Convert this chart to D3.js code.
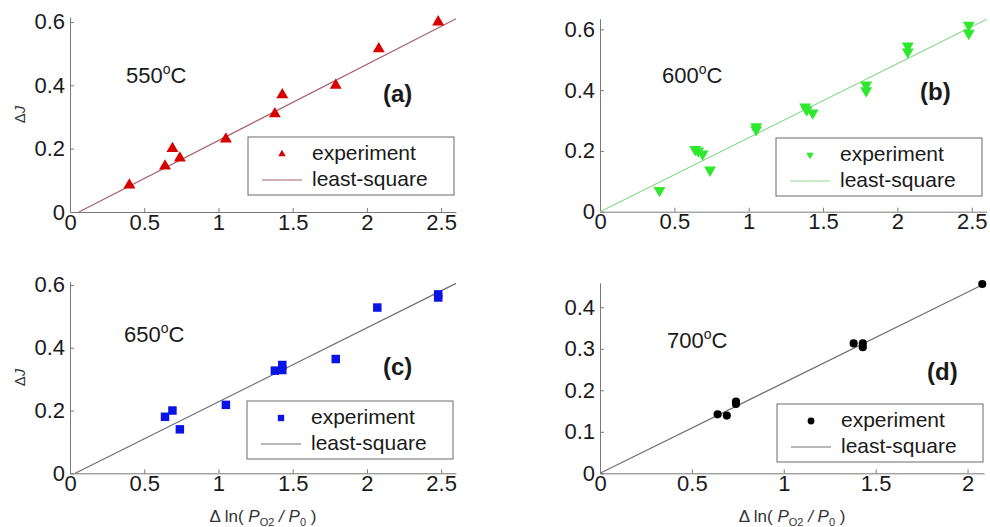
<!DOCTYPE html>
<html>
<head>
<meta charset="utf-8">
<script src="https://cdn.jsdelivr.net/npm/d3@7"></script>
<style>
    body { margin: 0; background: #fff; }
    svg { font-family: "Liberation Sans", Arial, sans-serif; }
    .axis path, .axis line { stroke: #7a7a7a; }
    .axis text { font-size: 22px; fill: #1a1a1a; }
</style>
</head>
<body>
<div id="chart"></div>
<script>
// ---- data ----
// (a) 550 C
const xA = [0.40, 0.64, 0.69, 0.74, 1.05, 1.38, 1.43, 1.79, 2.08, 2.48];
const yA = [0.085, 0.145, 0.20, 0.17, 0.23, 0.31, 0.37, 0.40, 0.515, 0.60];
const fitXA = [0.06, 2.6];
const fitYA = [0, 0.61];

// (b) 600 C
const xB = [0.40, 0.64, 0.66, 0.69, 0.74, 1.05, 1.05, 1.38, 1.39, 1.43, 1.79, 1.79, 2.07, 2.07, 2.48, 2.48];
const yB = [0.07, 0.205, 0.20, 0.19, 0.137, 0.28, 0.27, 0.345, 0.335, 0.325, 0.417, 0.398, 0.545, 0.526, 0.614, 0.587];
const fitXB = [0, 2.6];
const fitYB = [0, 0.633];

// (c) 650 C
const xC = [0.64, 0.69, 0.74, 1.05, 1.38, 1.43, 1.43, 1.79, 2.07, 2.48, 2.48];
const yC = [0.18, 0.20, 0.14, 0.218, 0.327, 0.345, 0.329, 0.364, 0.528, 0.56, 0.57];
const fitXC = [0.035, 2.6];
const fitYC = [0, 0.605];

// (d) 700 C
const xD = [0.64, 0.69, 0.74, 0.74, 1.38, 1.43, 1.43, 2.08];
const yD = [0.142, 0.139, 0.173, 0.167, 0.313, 0.313, 0.304, 0.456];
const fitXD = [0, 2.09];
const fitYD = [0, 0.456];

const xTicks = [0, 0.5, 1, 1.5, 2, 2.5];
const xTicksD = [0, 0.5, 1, 1.5, 2];
const yTicks = [0, 0.2, 0.4, 0.6];
const yTicksD = [0, 0.1, 0.2, 0.3, 0.4];

const temperatures = ["550", "600", "650", "700"];
const panelTags = ["(a)", "(b)", "(c)", "(d)"];
const legendLabels = ["experiment", "least-square"];

const zip = (xs, ys) => xs.map((x, i) => ({x: x, y: ys[i]}));

class FitPanel {

    constructor(svg, cfg) {
        this.svg = svg;
        this.cfg = cfg;
        this.initVis();
    }

    initVis() {
        let vis = this;
        let c = vis.cfg;

        vis.g = vis.svg.append("g");

        vis.xScale = d3.scaleLinear().domain(c.xDomain).range(c.xRange);
        vis.yScale = d3.scaleLinear().domain(c.yDomain).range(c.yRange);

        vis.drawAxes();
        vis.drawFit();
        vis.drawPoints();
        vis.drawLabels();
        vis.drawLegend();
    }

    drawAxes() {
        let vis = this;
        let c = vis.cfg;

        let xAxis = d3.axisBottom(vis.xScale)
            .tickValues(c.xTicks)
            .tickFormat(d => String(d))
            .tickSizeInner(-4)
            .tickSizeOuter(0)
            .tickPadding(2);

        let yAxis = d3.axisLeft(vis.yScale)
            .tickValues(c.yTicks)
            .tickFormat(d => String(d))
            .tickSizeInner(-4)
            .tickSizeOuter(0)
            .tickPadding(5);

        vis.g.append("g")
            .attr("class", "axis x-axis")
            .attr("transform", `translate(0,${c.yRange[0]})`)
            .call(xAxis);

        vis.g.append("g")
            .attr("class", "axis y-axis")
            .attr("transform", `translate(${c.xRange[0]},0)`)
            .call(yAxis);
    }

    drawFit() {
        let vis = this;
        let c = vis.cfg;

        const line = d3.line()
            .x(d => vis.xScale(d.x))
            .y(d => vis.yScale(d.y));

        vis.g.append("path")
            .datum(zip(c.fitX, c.fitY))
            .attr("fill", "none")
            .attr("stroke", c.lineColor)
            .attr("stroke-width", 1.2)
            .attr("d", line);
    }

    drawPoints() {
        let vis = this;
        let c = vis.cfg;

        const symbol = d3.symbol().type(c.symbol).size(c.symbolSize);

        vis.g.selectAll(".pt")
            .data(zip(c.xs, c.ys))
            .enter()
            .append("path")
            .attr("class", "pt")
            .attr("d", symbol)
            .attr("fill", c.markerColor)
            .attr("transform", d => `translate(${vis.xScale(d.x)},${vis.yScale(d.y)}) rotate(${c.rotate})`);
    }

    drawLabels() {
        let vis = this;
        let c = vis.cfg;

        // temperature, with a raised "o" for degrees
        let t = vis.g.append("text")
            .attr("x", c.tempPos[0])
            .attr("y", c.tempPos[1])
            .attr("font-size", 22)
            .attr("fill", "#1a1a1a");
        t.append("tspan").text(c.temp);
        t.append("tspan").attr("font-size", 14).attr("dy", -9).text("o");
        t.append("tspan").attr("dy", 9).text("C");

        vis.g.append("text")
            .attr("x", c.tagPos[0])
            .attr("y", c.tagPos[1])
            .attr("font-size", 24)
            .attr("font-weight", "bold")
            .attr("fill", "#1a1a1a")
            .text(c.tag);

        if (c.yLabel) {
            let yMid = (c.yRange[0] + c.yRange[1]) / 2;
            let yl = vis.g.append("text")
                .attr("transform", `translate(25,${yMid}) rotate(-90)`)
                .attr("text-anchor", "middle")
                .attr("font-size", 15)
                .attr("fill", "#333");
            yl.append("tspan").text("\u0394");
            yl.append("tspan").attr("font-style", "italic").text("J");
        }

        if (c.xLabel) {
            let xMid = (c.xRange[0] + c.xRange[1]) / 2;
            let xl = vis.g.append("text")
                .attr("x", xMid)
                .attr("y", 522)
                .attr("text-anchor", "middle")
                .attr("font-size", 17)
                .attr("fill", "#333");
            xl.append("tspan").text("\u0394 ln( ");
            xl.append("tspan").attr("font-style", "italic").text("P");
            xl.append("tspan").attr("font-size", 11).attr("dy", 4).text("O2");
            xl.append("tspan").attr("font-style", "italic").attr("dy", -4).text(" / P");
            xl.append("tspan").attr("font-size", 11).attr("dy", 4).text("0");
            xl.append("tspan").attr("dy", -4).text(" )");
        }
    }

    drawLegend() {
        let vis = this;
        let c = vis.cfg;
        let [lx, ly] = c.legendPos;

        let lg = vis.g.append("g")
            .attr("transform", `translate(${lx},${ly})`);

        lg.append("rect")
            .attr("width", 206)
            .attr("height", 58)
            .attr("fill", "#fff")
            .attr("stroke", "#6a6a6a")
            .attr("stroke-width", 1);

        lg.append("path")
            .attr("d", d3.symbol().type(c.symbol).size(c.legendSymbolSize))
            .attr("fill", c.markerColor)
            .attr("transform", `translate(34,17) rotate(${c.rotate})`);

        lg.append("line")
            .attr("x1", 14).attr("x2", 54)
            .attr("y1", 43).attr("y2", 43)
            .attr("stroke", c.lineColor)
            .attr("stroke-width", 1.2);

        lg.selectAll(".leg-text")
            .data(legendLabels)
            .enter()
            .append("text")
            .attr("class", "leg-text")
            .attr("x", 64)
            .attr("y", (d, i) => 23 + i * 26)
            .attr("font-size", 21)
            .attr("fill", "#1a1a1a")
            .text(d => d);
    }
}

const svg = d3.select("#chart").append("svg")
    .attr("width", 990)
    .attr("height", 527);

svg.append("rect").attr("width", 990).attr("height", 527).attr("fill", "#fff");

new FitPanel(svg, {
    xs: xA, ys: yA, fitX: fitXA, fitY: fitYA,
    xDomain: [0, 2.6], xRange: [70, 456],
    yDomain: [0, 0.615], yRange: [212, 17.2],
    xTicks: xTicks, yTicks: yTicks,
    symbol: d3.symbolTriangle, rotate: 0, symbolSize: 62, legendSymbolSize: 24,
    markerColor: "#d60000", lineColor: "#a8626c",
    temp: temperatures[0], tempPos: [126, 83],
    tag: panelTags[0], tagPos: [383, 102],
    legendPos: [248, 137], yLabel: true, xLabel: false
});

new FitPanel(svg, {
    xs: xB, ys: yB, fitX: fitXB, fitY: fitYB,
    xDomain: [0, 2.6], xRange: [600, 986.6],
    yDomain: [0, 0.635], yRange: [211.7, 18.7],
    xTicks: xTicks, yTicks: yTicks,
    symbol: d3.symbolTriangle, rotate: 180, symbolSize: 62, legendSymbolSize: 24,
    markerColor: "#2ee82e", lineColor: "#8ed88e",
    temp: temperatures[1], tempPos: [662, 83],
    tag: panelTags[1], tagPos: [920, 100],
    legendPos: [776, 138], yLabel: false, xLabel: false
});

new FitPanel(svg, {
    xs: xC, ys: yC, fitX: fitXC, fitY: fitYC,
    xDomain: [0, 2.6], xRange: [70, 456],
    yDomain: [0, 0.61], yRange: [473.3, 281.8],
    xTicks: xTicks, yTicks: yTicks,
    symbol: d3.symbolSquare, rotate: 0, symbolSize: 72, legendSymbolSize: 40,
    markerColor: "#0a14e6", lineColor: "#6e6e78",
    temp: temperatures[2], tempPos: [124, 342],
    tag: panelTags[2], tagPos: [383, 375],
    legendPos: [247, 401], yLabel: true, xLabel: true
});

new FitPanel(svg, {
    xs: xD, ys: yD, fitX: fitXD, fitY: fitYD,
    xDomain: [0, 2.09], xRange: [600, 984.1],
    yDomain: [0, 0.459], yRange: [473.3, 282.8],
    xTicks: xTicksD, yTicks: yTicksD,
    symbol: d3.symbolCircle, rotate: 0, symbolSize: 52, legendSymbolSize: 36,
    markerColor: "#000", lineColor: "#707070",
    temp: temperatures[3], tempPos: [667, 348],
    tag: panelTags[3], tagPos: [927, 380],
    legendPos: [777, 404], yLabel: false, xLabel: true
});
</script>
</body>
</html>
